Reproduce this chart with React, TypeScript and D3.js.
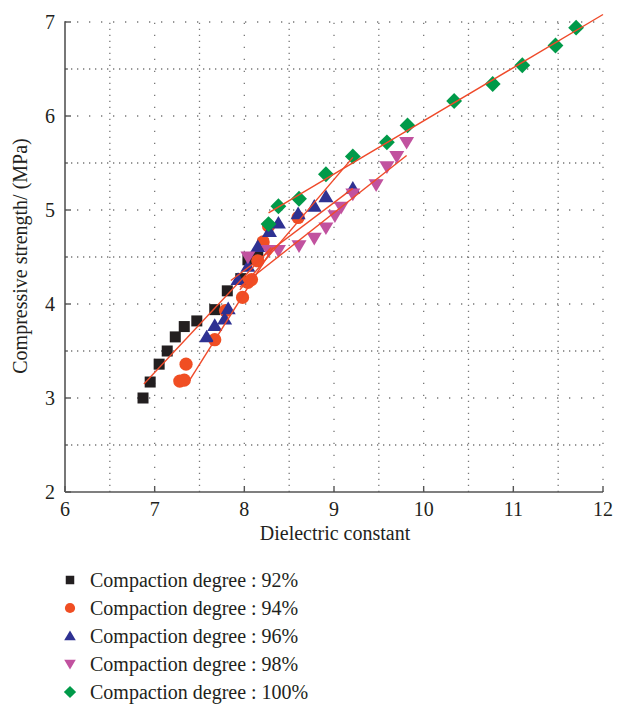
import React from "react";
import * as d3 from "d3";

const W = 619;
const H = 705;

const xTicks = [6, 7, 8, 9, 10, 11, 12];
const yTicks = [2, 3, 4, 5, 6, 7];

const seriesNames = [
  "Compaction degree : 92%",
  "Compaction degree : 94%",
  "Compaction degree : 96%",
  "Compaction degree : 98%",
  "Compaction degree : 100%",
];

const d92x = [6.87, 6.95, 7.05, 7.14, 7.23, 7.33, 7.47, 7.67, 7.81, 7.96, 8.04, 8.15, 8.21];
const d92y = [3.0, 3.17, 3.36, 3.5, 3.65, 3.76, 3.82, 3.94, 4.14, 4.27, 4.47, 4.51, 4.64];

const d94x = [7.28, 7.33, 7.35, 7.67, 7.79, 7.98, 8.04, 8.08, 8.15, 8.21, 8.27, 8.6];
const d94y = [3.18, 3.19, 3.36, 3.62, 3.93, 4.07, 4.23, 4.26, 4.46, 4.66, 4.83, 4.92];

const d96x = [7.58, 7.67, 7.78, 7.82, 7.93, 8.04, 8.15, 8.28, 8.38, 8.6, 8.78, 8.91, 9.21];
const d96y = [3.65, 3.77, 3.84, 3.95, 4.26, 4.4, 4.61, 4.77, 4.86, 4.96, 5.04, 5.14, 5.23];

const d98x = [8.04, 8.27, 8.38, 8.61, 8.78, 8.91, 9.01, 9.08, 9.21, 9.47, 9.59, 9.7, 9.81];
const d98y = [4.5, 4.57, 4.57, 4.62, 4.7, 4.81, 4.94, 5.03, 5.17, 5.27, 5.46, 5.57, 5.72];

const d100x = [8.27, 8.38, 8.61, 8.91, 9.21, 9.59, 9.82, 10.34, 10.77, 11.1, 11.47, 11.7];
const d100y = [4.85, 5.04, 5.12, 5.38, 5.57, 5.72, 5.9, 6.16, 6.34, 6.54, 6.75, 6.94];

// fitted lines: [x1, y1, x2, y2] in data units
const fitLines = [
  [6.88, 3.15, 8.3, 4.6],
  [7.39, 3.19, 8.32, 4.6],
  [7.95, 4.15, 9.21, 5.56],
  [7.85, 4.25, 9.21, 5.23],
  [7.95, 4.18, 9.81, 5.58],
  [8.27, 4.97, 12.0, 7.08],
];

const colors = ["#231f20", "#f04e23", "#2e3192", "#c1529f", "#009a49"];
const shapes = ["square", "circle", "triangle", "triangleDown", "diamond"];
const FONT = "'Liberation Serif', 'Times New Roman', serif";

function Marker({ shape, x, y, color, s }: { shape: string; x: number; y: number; color: string; s: number }) {
  if (shape === "square") {
    return <rect x={x - s / 2} y={y - s / 2} width={s} height={s} fill={color} />;
  }
  if (shape === "circle") {
    return <circle cx={x} cy={y} r={s * 0.6} fill={color} />;
  }
  if (shape === "triangle") {
    const h = s * 1.1;
    return (
      <path
        d={`M${x},${y - h * 0.6} L${x + h * 0.62},${y + h * 0.45} L${x - h * 0.62},${y + h * 0.45} Z`}
        fill={color}
      />
    );
  }
  if (shape === "triangleDown") {
    const h = s * 1.1;
    return (
      <path
        d={`M${x},${y + h * 0.6} L${x + h * 0.62},${y - h * 0.45} L${x - h * 0.62},${y - h * 0.45} Z`}
        fill={color}
      />
    );
  }
  const r = s * 0.72;
  return <path d={`M${x},${y - r} L${x + r},${y} L${x},${y + r} L${x - r},${y} Z`} fill={color} />;
}

export default function App() {
  const x = d3.scaleLinear().domain([6, 12]).range([65, 603]);
  const y = d3.scaleLinear().domain([2, 7]).range([492, 22]);

  const allX = [d92x, d94x, d96x, d98x, d100x];
  const allY = [d92y, d94y, d96y, d98y, d100y];

  const halfX = d3.range(6.5, 12.01, 0.5);
  const halfY = d3.range(2.5, 7.01, 0.5);

  const line = d3.line<number[]>().x((d) => x(d[0])).y((d) => y(d[1]));

  return (
    <svg width={W} height={H} style={{ position: "absolute", left: 0, top: 0, background: "#fff" }}>
      {/* grid */}
      <g>
        {halfX.map((v) => {
          const major = Math.abs(v - Math.round(v)) < 1e-6;
          return (
            <line
              key={"gx" + v}
              x1={x(v)}
              x2={x(v)}
              y1={y(2)}
              y2={y(7)}
              stroke="#777"
              strokeWidth={1.3}
              strokeDasharray={major ? "1.3,10.7" : "1.3,4.7"}
            />
          );
        })}
        {halfY.map((v) => {
          const major = Math.abs(v - Math.round(v)) < 1e-6;
          return (
            <line
              key={"gy" + v}
              x1={x(6)}
              x2={x(12)}
              y1={y(v)}
              y2={y(v)}
              stroke="#777"
              strokeWidth={1.3}
              strokeDasharray={major ? "1.3,10.7" : "1.3,4.7"}
            />
          );
        })}
      </g>

      {/* axes */}
      <line x1={x(6)} x2={x(6)} y1={y(7) - 0.7} y2={y(2)} stroke="#555" strokeWidth={1.6} />
      <line x1={x(6)} x2={x(12)} y1={y(2)} y2={y(2)} stroke="#555" strokeWidth={1.6} />
      {yTicks.map((v) => (
        <line key={"yt" + v} x1={x(6)} x2={x(6) + 6} y1={y(v)} y2={y(v)} stroke="#555" strokeWidth={1.4} />
      ))}
      {halfY.filter((v) => Math.abs(v - Math.round(v)) > 1e-6).map((v) => (
        <line key={"yh" + v} x1={x(6)} x2={x(6) + 3} y1={y(v)} y2={y(v)} stroke="#555" strokeWidth={1.2} />
      ))}
      {xTicks.map((v) => (
        <line key={"xt" + v} x1={x(v)} x2={x(v)} y1={y(2)} y2={y(2) - 6} stroke="#555" strokeWidth={1.4} />
      ))}
      {yTicks.map((v) => (
        <text
          key={"yl" + v}
          x={x(6) - 10}
          y={y(v) + 7}
          textAnchor="end"
          fontFamily={FONT}
          fontSize={20}
          fill="#231f20"
        >
          {v}
        </text>
      ))}
      {xTicks.map((v) => (
        <text
          key={"xl" + v}
          x={x(v)}
          y={516}
          textAnchor="middle"
          fontFamily={FONT}
          fontSize={20}
          fill="#231f20"
        >
          {v}
        </text>
      ))}
      <text x={335} y={540} textAnchor="middle" fontFamily={FONT} fontSize={20} fill="#231f20">
        Dielectric constant
      </text>
      <text
        transform={`translate(27,256) rotate(-90)`}
        textAnchor="middle"
        fontFamily={FONT}
        fontSize={20}
        fill="#231f20"
      >
        Compressive strength/ (MPa)
      </text>

      {/* markers */}
      {allX.map((xs, si) => (
        <g key={"s" + si}>
          {xs.map((xv, i) => (
            <Marker key={i} shape={shapes[si]} x={x(xv)} y={y(allY[si][i])} color={colors[si]} s={11} />
          ))}
        </g>
      ))}

      {/* fit lines */}
      {fitLines.map((l, i) => (
        <path
          key={"fl" + i}
          d={line([
            [l[0], l[1]],
            [l[2], l[3]],
          ]) as string}
          stroke="#ef4a2a"
          strokeWidth={1.4}
          fill="none"
        />
      ))}

      {/* legend */}
      {seriesNames.map((name, i) => {
        const cy = 580 + i * 28;
        return (
          <g key={"lg" + i}>
            <Marker shape={shapes[i]} x={70} y={cy} color={colors[i]} s={8.5} />
            <text x={90} y={cy + 7} fontFamily={FONT} fontSize={20} fill="#231f20">
              {name}
            </text>
          </g>
        );
      })}
    </svg>
  );
}
